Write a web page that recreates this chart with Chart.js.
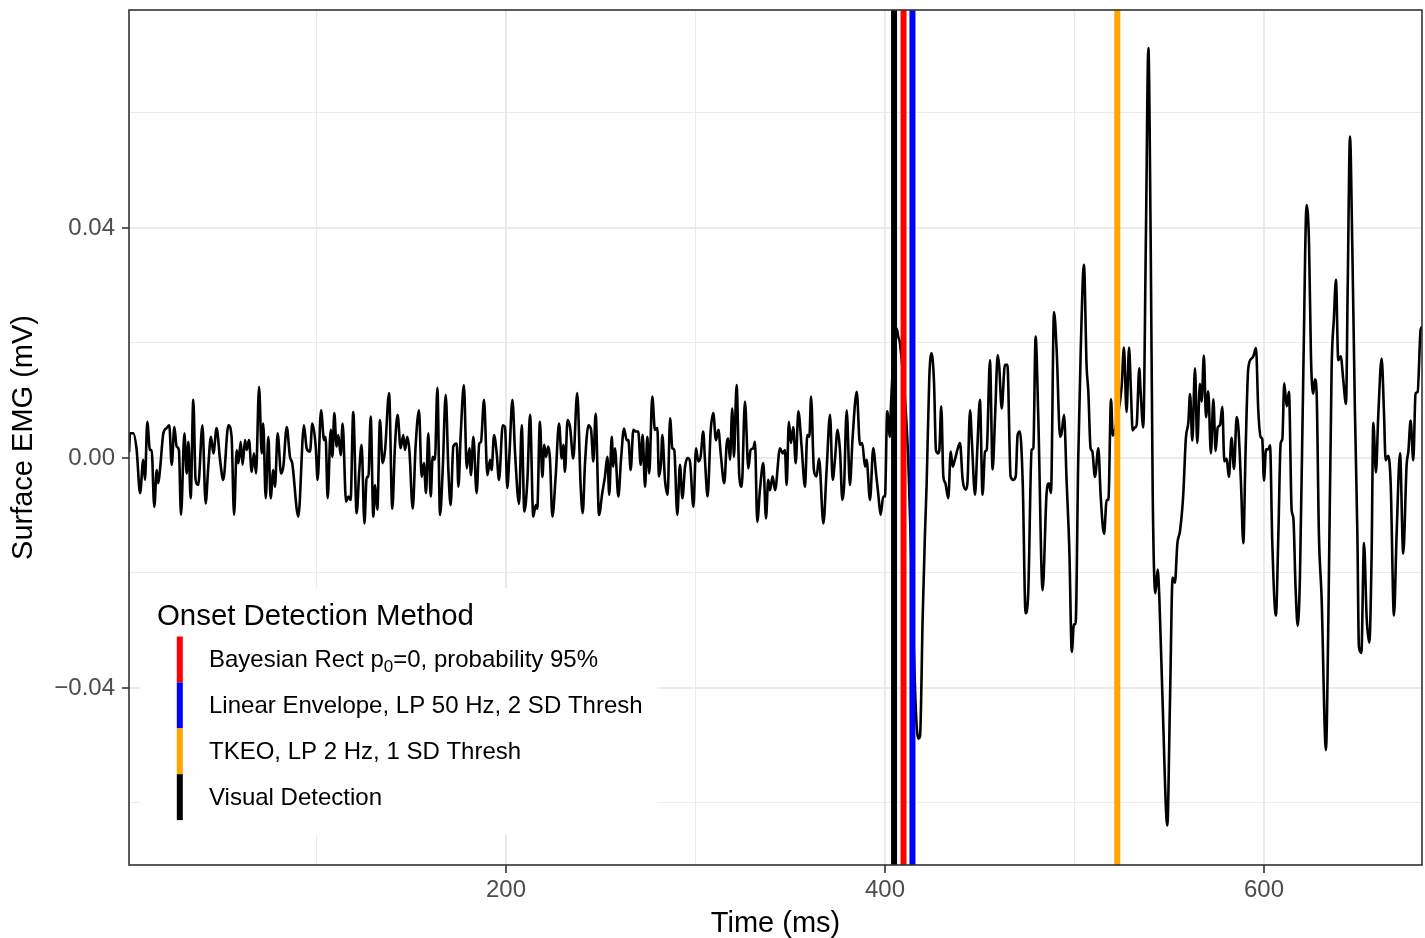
<!DOCTYPE html>
<html>
<head>
<meta charset="utf-8">
<style>
html,body{margin:0;padding:0;background:#ffffff;}
#wrap{width:1425px;height:938px;position:relative;}
</style>
<script src="https://cdn.jsdelivr.net/npm/chart.js@4.4.1/dist/chart.umd.min.js"></script>
</head>
<body>
<div id="wrap"><canvas id="c" width="1425" height="938"></canvas></div>
<script>
// ---------------- data ----------------
const timeMs = [
 1.1,1.6,3.3,5.1,6.9,8.6,9.5,10.7,12.1,13.0,14.4,15.7,16.5,17.4,19.2,20.9,22.3,23.6,25.0,26.2,27.4,
 28.5,30.3,31.5,32.4,33.6,35.0,36.2,37.6,39.8,41.5,42.9,44.3,45.6,47.3,49.1,50.8,53.5,55.2,56.5,57.9,
 58.8,60.0,61.0,62.3,63.2,64.4,65.8,67.0,68.1,69.7,71.1,71.9,73.2,74.6,75.8,77.2,78.1,79.5,81.3,82.5,
 84.3,86.0,87.2,90.4,93.4,94.8,96.6,97.8,99.6,100.6,102.4,
 104.0,104.8,105.9,107.5,108.4,109.4,110.6,111.5,112.8,113.8,115.6,116.8,118.0,119.4,121.2,122.6,123.8,125.3,126.5,127.4,
 128.6,130.0,130.9,132.1,133.5,134.9,136.2,138.3,140.0,141.4,142.8,144.4,145.8,146.7,147.9,149.0,150.8,152.3,154.1,155.5,
 156.7,157.8,159.0,160.3,161.3,162.5,163.8,165.2,166.6,168.2,169.6,170.8,172.2,174.0,174.9,176.1,177.8,179.3,180.7,181.5,
 182.8,184.5,185.9,186.8,188.4,190.2,191.6,192.4,193.7,195.1,196.3,198.3,199.5,200.7,201.8,203.4,204.8,206.9,
 208.3,209.7,211.3,212.7,214.4,215.7,216.5,217.9,219.2,220.2,221.1,222.3,223.2,224.5,226.2,228.0,229.4,230.3,231.1,232.5,
 233.8,235.5,237.6,239.4,240.5,241.7,243.5,244.9,246.1,247.3,249.1,250.8,252.2,253.5,254.5,255.8,256.6,257.5,259.3,260.7,
 262.3,263.7,264.6,265.8,267.2,268.4,269.8,271.1,272.1,273.4,274.6,275.6,277.2,278.6,279.9,280.7,281.8,282.5,283.9,285.3,
 286.6,287.8,288.8,290.4,291.8,293.1,294.5,295.9,297.1,298.9,300.3,301.5,302.7,304.1,305.0,306.4,308.0,309.4,
 310.8,312.1,313.3,315.2,316.5,317.3,318.2,319.4,320.3,321.7,323.1,324.4,326.1,327.9,329.1,330.5,331.4,332.6,334.0,335.8,
 337.2,338.4,339.3,340.7,342.0,344.6,346.0,347.2,348.1,349.3,350.4,351.6,352.9,354.3,356.0,357.8,359.0,360.1,361.0,362.5,
 363.9,365.2,367.5,369.2,371.0,372.4,373.6,375.0,376.3,377.5,378.4,379.8,381.5,382.9,385.1,386.8,388.0,389.5,390.3,392.1,
 393.8,395.3,396.5,397.7,399.1,400.0,401.2,402.6,
 403.2,406.2,407.0,407.9,412.3,414.6,416.3,417.6,418.5,419.9,421.1,422.0,423.4,424.6,425.9,426.9,428.1,428.7,429.7,430.8,
 431.8,433.4,434.7,435.7,436.9,438.2,439.6,441.0,442.6,443.5,444.9,445.9,447.5,448.7,450.1,451.5,452.8,453.7,455.4,456.8,
 458.1,459.5,460.3,461.6,463.3,464.6,466.3,467.7,469.0,470.0,471.2,472.7,474.2,475.6,477.4,478.3,479.5,480.9,483.2,485.3,
 486.5,487.6,489.2,490.6,492.4,493.2,494.5,495.9,497.3,498.6,
 499.7,500.6,502.0,503.3,505.0,506.4,507.3,508.5,509.4,510.8,512.6,513.8,515.6,517.0,517.9,519.3,520.2,522.6,524.9,526.1,
 527.5,528.8,529.8,530.7,531.9,532.8,534.2,534.9,536.3,537.7,539.0,540.2,541.3,542.7,543.9,544.8,546.5,549.0,550.4,551.8,
 553.0,554.3,555.7,557.4,558.8,560.1,561.0,562.2,563.6,564.8,566.2,567.1,568.3,569.4,570.6,572.0,573.3,574.5,575.6,576.8,
 578.0,579.1,580.3,581.5,582.9,584.2,585.6,586.5,587.9,589.1,
 590.3,591.7,593.5,594.4,595.8,597.0,598.3,599.1,600.0,601.1,602.3,603.2,604.4,606.3,607.6,608.8,609.7,610.7,612.0,613.2,
 614.6,615.5,616.7,617.8,619.0,620.8,622.5,623.8,624.8,626.0,626.9,627.8,629.0,630.4,632.7,634.0,635.7,636.9,638.0,639.2,
 640.5,641.9,643.3,644.2,645.4,646.6,648.0,649.3,650.1,651.4,652.8,654.2,655.6,656.8,657.7,659.1,660.3,662.1,663.3,664.2,
 665.6,666.9,668.6,670.0,671.8,673.5,675.3,676.2,677.4,678.8,680.0,681.1,682.7,683.6
];
const emgMv = [
 0.0010,0.0043,0.0043,0.0014,-0.0061,-0.0003,-0.0038,0.0063,0.0014,0.0014,-0.0085,-0.0021,-0.0044,-0.0021,0.0043,0.0052,0.0057,-0.0012,0.0054,0.0020,0.0014,
 -0.0099,0.0043,-0.0027,0.0028,-0.0070,0.0101,-0.0038,-0.0047,0.0057,-0.0079,-0.0015,0.0037,0.0008,0.0052,-0.0003,-0.0038,0.0057,0.0037,-0.0099,0.0014,
 -0.0009,0.0028,-0.0012,0.0031,0.0014,0.0031,-0.0024,0.0008,-0.0027,0.0124,0.0008,0.0060,-0.0070,0.0037,-0.0070,-0.0021,-0.0050,0.0043,-0.0027,-0.0015,
 0.0054,0.0002,-0.0009,-0.0102,0.0057,0.0017,0.0011,0.0060,0.0020,-0.0038,0.0083,
 0.0031,0.0037,-0.0070,0.0049,0.0002,0.0078,0.0020,0.0040,0.0005,0.0060,-0.0076,-0.0067,-0.0073,0.0080,-0.0096,-0.0021,0.0023,-0.0114,-0.0033,-0.0033,
 0.0072,-0.0102,-0.0047,-0.0090,0.0066,-0.0009,0.0014,0.0113,-0.0088,0.0020,0.0075,0.0017,0.0040,0.0014,0.0037,0.0014,-0.0088,0.0020,0.0083,-0.0033,
 -0.0009,-0.0061,0.0043,-0.0067,0.0002,-0.0003,0.0122,-0.0099,-0.0021,0.0110,-0.0021,-0.0082,0.0020,0.0025,-0.0050,0.0040,0.0127,-0.0018,0.0017,-0.0030,
 0.0037,-0.0061,0.0025,0.0028,0.0101,-0.0030,-0.0003,-0.0021,0.0040,0.0008,-0.0038,0.0057,0.0054,-0.0052,0.0005,0.0101,0.0008,-0.0080,
 0.0057,-0.0093,-0.0038,0.0075,-0.0102,-0.0082,-0.0088,0.0063,-0.0033,0.0023,0.0002,0.0020,-0.0001,-0.0102,-0.0033,0.0060,-0.0001,0.0023,-0.0024,0.0066,
 0.0054,-0.0001,0.0113,-0.0049,-0.0096,-0.0009,0.0057,0.0049,-0.0006,0.0077,-0.0099,-0.0061,-0.0033,0.0002,-0.0064,0.0037,-0.0015,0.0017,-0.0067,-0.0003,
 0.0051,0.0031,0.0031,-0.0021,0.0049,0.0046,0.0046,-0.0012,0.0040,-0.0050,0.0037,-0.0027,0.0107,0.0049,0.0052,-0.0032,-0.0009,0.0040,-0.0038,-0.0064,
 0.0069,0.0017,0.0014,-0.0099,-0.0012,-0.0070,-0.0015,0.0000,-0.0006,-0.0085,0.0017,-0.0006,0.0002,0.0046,-0.0003,-0.0067,0.0046,0.0078,
 0.0031,0.0049,0.0008,-0.0044,0.0026,0.0034,-0.0003,0.0086,0.0002,0.0127,-0.0030,-0.0050,0.0098,-0.0018,0.0014,0.0017,0.0028,-0.0111,-0.0056,-0.0009,
 -0.0105,-0.0038,-0.0056,-0.0032,-0.0056,0.0017,0.0008,0.0014,-0.0047,0.0063,0.0026,0.0054,-0.0009,0.0081,0.0020,-0.0050,0.0040,0.0037,0.0107,-0.0021,
 -0.0032,-0.0001,-0.0114,-0.0021,0.0075,-0.0038,-0.0003,0.0049,0.0011,-0.0073,-0.0050,0.0083,-0.0047,0.0034,0.0115,0.0023,0.0026,-0.0015,-0.0003,-0.0073,
 0.0017,-0.0027,-0.0064,-0.0099,-0.0067,-0.0067,0.0081,0.0037,
 0.0095,0.0225,0.0211,0.0200,-0.0003,-0.0260,-0.0440,-0.0488,-0.0484,-0.0277,-0.0132,-0.0044,0.0141,0.0182,0.0130,0.0014,0.0008,0.0014,0.0090,-0.0032,
 -0.0043,-0.0070,0.0011,-0.0015,-0.0003,0.0014,0.0026,-0.0038,-0.0055,-0.0044,0.0083,0.0026,-0.0064,0.0014,0.0101,-0.0064,0.0011,0.0014,0.0170,-0.0020,
 0.0072,0.0179,0.0159,0.0086,0.0162,0.0162,-0.0032,-0.0038,-0.0032,0.0040,0.0046,-0.0044,-0.0270,-0.0235,0.0014,0.0017,0.0211,0.0072,-0.0230,-0.0061,
 -0.0044,-0.0061,0.0254,0.0188,0.0037,0.0043,0.0075,-0.0044,-0.0160,-0.0337,
 -0.0289,-0.0289,-0.0001,0.0187,0.0336,0.0160,0.0116,0.0017,0.0012,-0.0033,0.0017,-0.0064,-0.0132,-0.0073,-0.0073,0.0102,0.0039,0.0070,0.0124,0.0192,
 0.0080,0.0192,0.0116,0.0048,0.0053,0.0057,0.0156,0.0116,0.0053,0.0385,0.0713,0.0385,-0.0064,-0.0235,-0.0194,-0.0244,-0.0424,-0.0639,-0.0424,-0.0208,
 -0.0217,-0.0149,-0.0127,-0.0064,0.0035,0.0062,0.0111,0.0030,0.0156,0.0026,0.0129,0.0098,0.0178,0.0071,0.0116,0.0008,0.0102,0.0012,0.0053,0.0057,
 0.0089,-0.0006,-0.0001,-0.0033,0.0035,-0.0019,0.0071,0.0053,-0.0046,-0.0148,
 0.0011,0.0155,0.0173,0.0177,0.0191,0.0083,0.0036,0.0033,-0.0039,0.0015,0.0015,0.0022,-0.0148,-0.0274,-0.0133,0.0025,0.0033,0.0130,0.0090,0.0115,
 -0.0090,-0.0104,-0.0227,-0.0292,-0.0205,0.0155,0.0440,0.0371,0.0177,0.0112,0.0137,0.0112,-0.0133,-0.0241,-0.0508,-0.0278,0.0155,0.0242,0.0310,0.0170,
 0.0177,0.0134,0.0094,0.0299,0.0559,0.0371,0.0083,-0.0133,-0.0328,-0.0339,-0.0148,-0.0278,-0.0321,-0.0170,0.0061,-0.0025,0.0072,0.0173,0.0083,-0.0004,
 0.0004,-0.0047,-0.0274,-0.0133,0.0008,-0.0166,-0.0011,0.0011,0.0065,-0.0004,0.0112,0.0115,0.0224,0.0228
];

const legendTitle = 'Onset Detection Method';
const onsetMethods = [
  'Bayesian Rect p_{0}=0, probability 95%',
  'Linear Envelope, LP 50 Hz, 2 SD Thresh',
  'TKEO, LP 2 Hz, 1 SD Thresh',
  'Visual Detection'
];
const onsetTimes = [409.8, 414.5, 522.6, 404.8];
const onsetColors = ['#FF0000', '#0000FF', '#FFA500', '#000000'];

const xTicks = [100, 200, 300, 400, 500, 600];
const xTickLabels = ['', '200', '', '400', '', '600'];
const yTicks = [-0.06, -0.04, -0.02, 0, 0.02, 0.04, 0.06];
const yTickLabels = ['', '\u22120.04', '', '0.00', '', '0.04', ''];

const xTitle = 'Time (ms)';
const yTitle = 'Surface EMG (mV)';

// ---------------- chart ----------------
const X_MIN = 1.06, X_MAX = 683.4, Y_MIN = -0.07078, Y_MAX = 0.07791;
const FONT = '"Liberation Sans", Arial, Helvetica, sans-serif';
const GRID = '#EBEBEB';
const INK = '#333333';

if (timeMs.length !== emgMv.length) console.error('length mismatch', timeMs.length, emgMv.length);

function isMajor(list, labels, v) {
  const i = list.findIndex(t => Math.abs(t - v) < 1e-9);
  return i >= 0 && labels[i] !== '';
}

function drawRichText(ctx, text, x, y, size) {
  const parts = text.split(/_\{(.*?)\}/);
  let cx = x;
  parts.forEach((p, k) => {
    if (!p) return;
    if (k % 2 === 1) {
      ctx.font = `${Math.round(size * 0.7)}px ${FONT}`;
      ctx.fillText(p, cx, y + size * 0.2);
    } else {
      ctx.font = `${size}px ${FONT}`;
      ctx.fillText(p, cx, y);
    }
    cx += ctx.measureText(p).width;
  });
}

const decor = {
  id: 'decor',
  afterDatasetsDraw(chart) {
    const ctx = chart.ctx, a = chart.chartArea;
    ctx.save();
    // legend (inside panel, white background)
    ctx.fillStyle = '#FFFFFF';
    ctx.fillRect(140, 588, 517, 247);
    ctx.fillStyle = '#000000';
    ctx.textAlign = 'left';
    ctx.textBaseline = 'alphabetic';
    ctx.font = `29.4px ${FONT}`;
    ctx.fillText(legendTitle, 157, 625);
    const keyTop = 636.5, keyH = 45.9;
    onsetMethods.forEach((m, i) => {
      const y0 = keyTop + i * keyH;
      ctx.fillStyle = onsetColors[i];
      ctx.fillRect(176.8, y0, 6, keyH);
      ctx.fillStyle = '#000000';
      drawRichText(ctx, m, 209, y0 + keyH / 2 + 8, 24);
    });
    // panel border
    ctx.strokeStyle = INK;
    ctx.lineWidth = 1.6;
    ctx.strokeRect(a.left, a.top, a.right - a.left, a.bottom - a.top);
    ctx.restore();
  }
};

const datasets = onsetTimes.map((t, i) => ({
  label: onsetMethods[i],
  data: [{x: t, y: Y_MIN - 0.01}, {x: t, y: Y_MAX + 0.01}],
  borderColor: onsetColors[i],
  borderWidth: 6,
  borderCapStyle: 'butt',
  pointRadius: 0,
  order: 1,
  clip: 0
}));
datasets.push({
  label: 'EMG',
  data: timeMs.map((t, i) => ({x: t, y: emgMv[i]})),
  borderColor: '#000000',
  borderWidth: 2.6,
  pointRadius: 0,
  cubicInterpolationMode: 'monotone',
  borderJoinStyle: 'round',
  order: 2,
  clip: 0
});

new Chart(document.getElementById('c'), {
  type: 'line',
  data: {datasets},
  plugins: [decor],
  options: {
    responsive: false,
    animation: false,
    devicePixelRatio: 1,
    layout: {padding: {left: 0, right: 3, top: 10, bottom: 0}},
    plugins: {legend: {display: false}, tooltip: {enabled: false}},
    scales: {
      x: {
        type: 'linear',
        min: X_MIN, max: X_MAX,
        afterBuildTicks: s => { s.ticks = xTicks.map(v => ({value: v})); },
        afterFit: s => { s.height = 73; s.paddingLeft = 0; s.paddingRight = 0; },
        border: {display: false},
        grid: {
          color: GRID,
          lineWidth: c => (c.tick && isMajor(xTicks, xTickLabels, c.tick.value)) ? 2 : 1.1,
          drawTicks: true,
          tickLength: 8,
          tickWidth: 1.6,
          tickColor: c => (c.tick && isMajor(xTicks, xTickLabels, c.tick.value)) ? INK : 'rgba(0,0,0,0)'
        },
        ticks: {
          autoSkip: false, maxRotation: 0,
          padding: 3,
          color: '#4D4D4D',
          font: {family: FONT, size: 24},
          callback: v => { const i = xTicks.indexOf(v); return i >= 0 ? xTickLabels[i] : ''; }
        },
        title: {
          display: true, text: xTitle, color: '#000000',
          font: {family: FONT, size: 29, lineHeight: 1.1},
          padding: {top: 0, bottom: -2}
        }
      },
      y: {
        type: 'linear',
        min: Y_MIN, max: Y_MAX,
        afterBuildTicks: s => { s.ticks = yTicks.map(v => ({value: v})); },
        afterFit: s => { s.width = 129; s.paddingTop = 0; s.paddingBottom = 0; },
        border: {display: false},
        grid: {
          color: GRID,
          lineWidth: c => (c.tick && isMajor(yTicks, yTickLabels, c.tick.value)) ? 2 : 1.1,
          drawTicks: true,
          tickLength: 7,
          tickWidth: 1.6,
          tickColor: c => (c.tick && isMajor(yTicks, yTickLabels, c.tick.value)) ? INK : 'rgba(0,0,0,0)'
        },
        ticks: {
          autoSkip: false,
          padding: 7,
          color: '#4D4D4D',
          font: {family: FONT, size: 24},
          callback: v => { const i = yTicks.findIndex(t => Math.abs(t - v) < 1e-9); return i >= 0 ? yTickLabels[i] : ''; }
        },
        title: {
          display: true, text: yTitle, color: '#000000',
          font: {family: FONT, size: 29, lineHeight: 1.1},
          padding: {top: 8, bottom: 0}
        }
      }
    }
  }
});
</script>
</body>
</html>
